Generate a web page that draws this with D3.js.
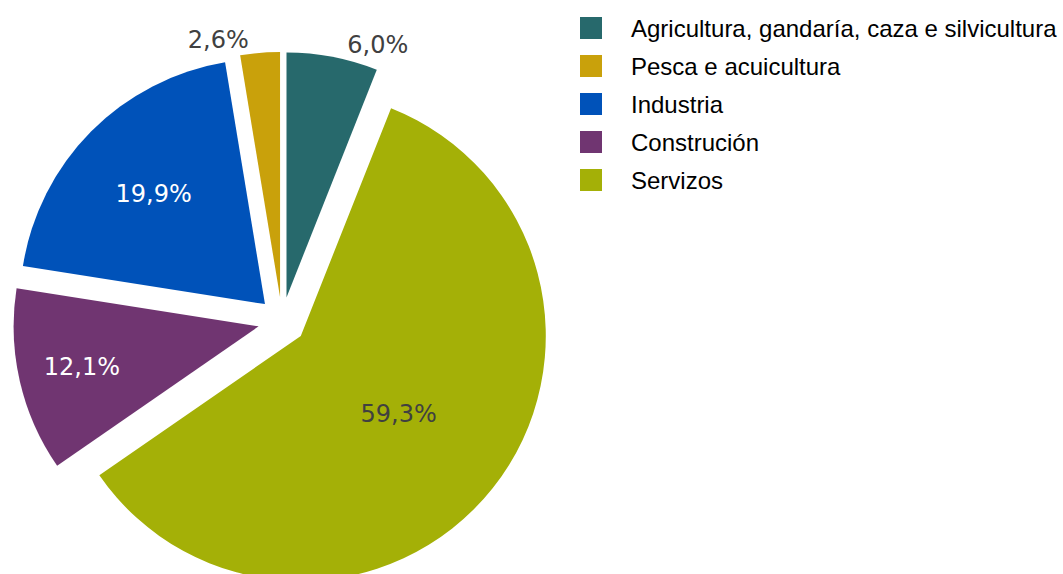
<!DOCTYPE html>
<html>
<head>
<meta charset="utf-8">
<script src="https://cdn.jsdelivr.net/npm/d3@7"></script>
<style>
  html, body { margin: 0; padding: 0; background: #fff; }
  svg { display: block; }
</style>
</head>
<body>
<svg id="chart" width="1063" height="574"></svg>
<script>
// data, legend order
var sectors = [
  "Agricultura, gandaría, caza e silvicultura",
  "Pesca e acuicultura",
  "Industria",
  "Construción",
  "Servizos"
];
var shares = [6.0, 2.6, 19.9, 12.1, 59.3];
var colors = ["#27696c", "#c9a10b", "#0052b9", "#703571", "#a4b007"];

// label placement: [radius factor, angle shift in degrees, text colour]
var labelLayout = [
  [1.10, 9, "#404040"],
  [1.08, -8.8, "#404040"],
  [0.64, 0, "#ffffff"],
  [0.74, 0, "#ffffff"],
  [0.51, 0, "#404040"]
];

var svg = d3.select("#chart");
var cx = 282, cy = 321, r = 245, explode = 24;
var total = d3.sum(shares);
var a0 = 2 * Math.PI * shares[0] / total;

var pie = d3.pie()
  .sort(null)
  .startAngle(a0)
  .endAngle(a0 - 2 * Math.PI);

var arcs = pie(shares);
var arc = d3.arc().innerRadius(0).outerRadius(r);

var fmt = function(v) {
  return d3.format(".1f")(v).replace(".", ",") + "%";
};

var g = svg.append("g").attr("transform", "translate(" + cx + "," + cy + ")");

var slice = g.selectAll("g.slice")
  .data(arcs)
  .enter()
  .append("g")
  .attr("class", "slice")
  .attr("transform", function(d) {
    var m = (d.startAngle + d.endAngle) / 2;
    return "translate(" + explode * Math.sin(m) + "," + -explode * Math.cos(m) + ")";
  });

slice.append("path")
  .attr("d", arc)
  .attr("fill", function(d, i) { return colors[i]; });

slice.append("text")
  .attr("x", function(d, i) {
    var m = (d.startAngle + d.endAngle) / 2 + labelLayout[i][1] * Math.PI / 180;
    return r * labelLayout[i][0] * Math.sin(m);
  })
  .attr("y", function(d, i) {
    var m = (d.startAngle + d.endAngle) / 2 + labelLayout[i][1] * Math.PI / 180;
    return -r * labelLayout[i][0] * Math.cos(m);
  })
  .attr("dy", "0.36em")
  .attr("text-anchor", "middle")
  .attr("font-family", "DejaVu Sans, Verdana, sans-serif")
  .attr("font-size", "24px")
  .attr("fill", function(d, i) { return labelLayout[i][2]; })
  .text(function(d) { return fmt(d.data); });

// legend
var legend = svg.append("g").attr("transform", "translate(580,17)");

var item = legend.selectAll("g")
  .data(sectors)
  .enter()
  .append("g")
  .attr("transform", function(d, i) { return "translate(0," + i * 38 + ")"; });

item.append("rect")
  .attr("width", 22)
  .attr("height", 22)
  .attr("fill", function(d, i) { return colors[i]; });

item.append("text")
  .attr("x", 51)
  .attr("y", 19.5)
  .attr("font-family", "Liberation Sans, Arial, sans-serif")
  .attr("font-size", "24px")
  .attr("fill", "#000")
  .text(function(d) { return d; });
</script>
</body>
</html>
